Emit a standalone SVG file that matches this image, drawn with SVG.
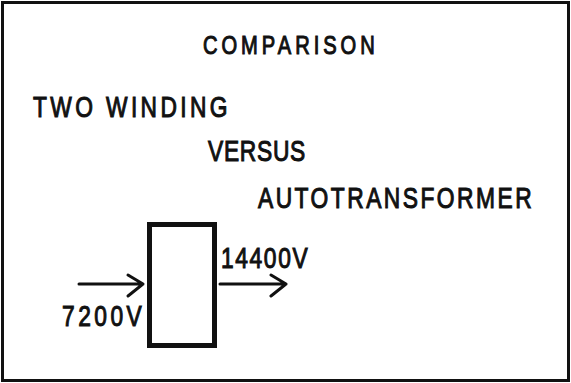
<svg xmlns="http://www.w3.org/2000/svg" width="571" height="383" viewBox="0 0 571 383">
<style>
text{font-family:"Liberation Sans",Arial,sans-serif;font-weight:normal;fill:#111;stroke:#111;stroke-width:1.1;}
.t{font-size:30px;}
.conn{stroke:#111;stroke-width:3;fill:none;stroke-linecap:round;stroke-linejoin:round;}
</style>
<rect x="2.5" y="2.5" width="566" height="378" fill="#fff" stroke="#111" stroke-width="3"/>
<g id="title">
<text transform="translate(203 53.5) scale(0.76 1)" style="font-size:26.5px" textLength="226" lengthAdjust="spacing">COMPARISON</text>
</g>
<g id="two-winding"><text class="t" transform="translate(33 116.5) scale(0.76 1)" textLength="256" lengthAdjust="spacing">TWO WINDING</text></g>
<g id="versus"><text class="t" transform="translate(208 160.5) scale(0.76 1)" textLength="128" lengthAdjust="spacing">VERSUS</text></g>
<g id="autotransformer"><text class="t" transform="translate(258 208) scale(0.76 1)" textLength="360" lengthAdjust="spacing">AUTOTRANSFORMER</text></g>
<g id="transformer">
<rect x="149.5" y="224.5" width="65" height="121" fill="#fff" stroke="#111" stroke-width="5"/>
</g>
<g id="label-in"><text class="t" transform="translate(62 325.5) scale(0.76 1)" textLength="105" lengthAdjust="spacing">7200V</text></g>
<g id="label-out"><text class="t" transform="translate(221 268) scale(0.76 1)" textLength="114" lengthAdjust="spacing">14400V</text></g>
<g id="connectors">
<path class="conn" d="M79 284H143M128 275L143 284L128 296"/>
<path class="conn" d="M220 284H286M271 275L286 284L271 296"/>
</g>
</svg>
